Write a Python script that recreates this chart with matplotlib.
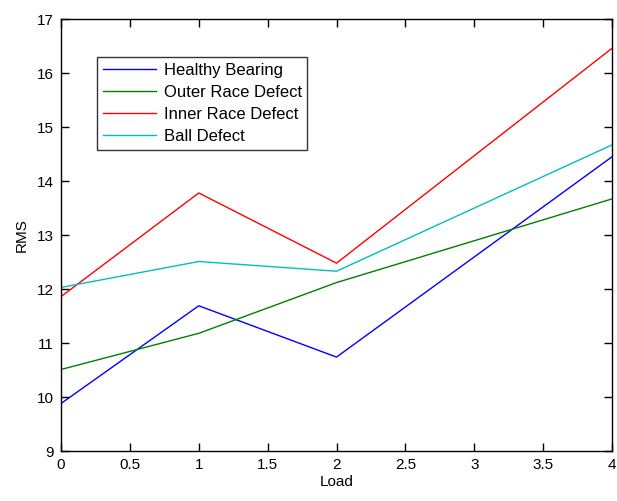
import matplotlib
matplotlib.use("Agg")
import matplotlib.pyplot as plt

load = [0, 1, 2, 4]
healthy = [9.88, 11.69, 10.74, 14.45]
outer = [10.51, 11.18, 12.12, 13.67]
inner = [11.86, 13.78, 12.48, 16.46]
ball = [12.03, 12.51, 12.33, 14.67]
labels = ["Healthy Bearing", "Outer Race Defect", "Inner Race Defect", "Ball Defect"]
colors = ["#0000ff", "#008000", "#ff0000", "#00bfbf"]

plt.rcParams['font.family'] = ['Liberation Sans', 'DejaVu Sans']
fig = plt.figure(figsize=(6.17, 5.01), dpi=100)
ax = fig.add_axes([0.0989, 0.0998, 0.893, 0.862])
for ys, lab, c in zip([healthy, outer, inner, ball], labels, colors):
    ax.plot(load, ys, color=c, lw=1.0, label=lab)
ax.set_xlim(0, 4)
ax.set_ylim(9, 17)
ax.set_xticks([0, 0.5, 1, 1.5, 2, 2.5, 3, 3.5, 4])
ax.set_xticklabels(["0", "0.5", "1", "1.5", "2", "2.5", "3", "3.5", "4"])
ax.set_yticks(range(9, 18))
ax.tick_params(direction='in', top=True, right=True, length=6, labelsize=11, width=1, pad=5)
for s in ax.spines.values():
    s.set_linewidth(1)
ax.set_xlabel("Load", fontsize=11, labelpad=2)
ax.set_ylabel("RMS", fontsize=11, labelpad=6)
leg = ax.legend(loc='upper left', bbox_to_anchor=(0.065, 0.912), fontsize=12,
                frameon=True, fancybox=False, edgecolor='black', borderaxespad=0,
                handlelength=3.2, labelspacing=0.42, borderpad=0.35, handletextpad=0.45)
leg.get_frame().set_linewidth(1)
fig.savefig("out.png", dpi=100)
